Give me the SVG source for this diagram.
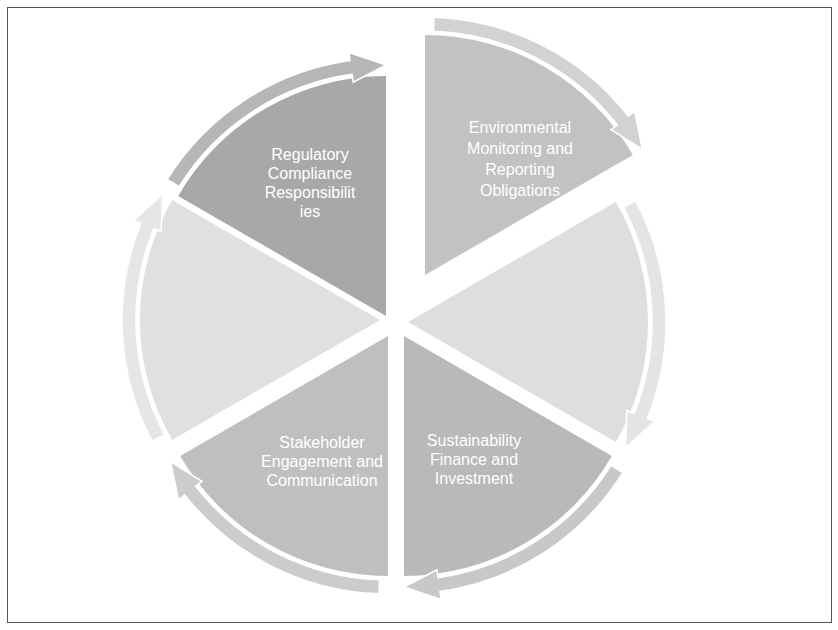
<svg xmlns="http://www.w3.org/2000/svg" width="838" height="630" viewBox="0 0 838 630">
<defs>
<style>
.w{stroke:none}
.b{stroke:#ffffff;stroke-width:1.5}
.t{font-family:"Liberation Sans",Arial,sans-serif;font-size:16px;fill:#ffffff;text-anchor:middle}
</style>
<path id="wedge" d="M0,0 L0,-240 A240,240 0 0 1 207.85,-120 Z"/>
<path id="band" d="M9.0,-257.84 A258,258 0 0 1 203.3,-158.85 L209.6,-163.8 L217.4,-125.5 L186.0,-145.3 L192.3,-150.2 A244,244 0 0 0 8.52,-243.85 Z"/>
</defs>
<rect x="7.5" y="7.5" width="824" height="615" fill="#ffffff" stroke="#555555" stroke-width="1"/>
<g id="seg-top-right" transform="translate(425,275)">
<use href="#wedge" class="w" fill="#c2c2c2"/>
<use href="#band" class="b" fill="#d2d2d2"/>
</g>
<g id="seg-right" transform="translate(408,322) rotate(60)">
<use href="#wedge" class="w" fill="#dedede"/>
<use href="#band" class="b" fill="#e4e4e4"/>
</g>
<g id="seg-bottom-right" transform="translate(404,336) rotate(120)">
<use href="#wedge" class="w" fill="#b9b9b9"/>
<use href="#band" class="b" fill="#c8c8c8"/>
</g>
<g id="seg-bottom-left" transform="translate(388,336) rotate(180)">
<use href="#wedge" class="w" fill="#bfbfbf"/>
<use href="#band" class="b" fill="#cccccc"/>
</g>
<g id="seg-left" transform="translate(380,320) rotate(240)">
<use href="#wedge" class="w" fill="#e0e0e0"/>
<use href="#band" class="b" fill="#e6e6e6"/>
</g>
<g id="seg-top-left" transform="translate(386,316) rotate(300)">
<use href="#wedge" class="w" fill="#a8a8a8"/>
<use href="#band" class="b" fill="#b6b6b6"/>
</g>
<g id="labels">
<text class="t" x="310" y="160">Regulatory</text>
<text class="t" x="310" y="179">Compliance</text>
<text class="t" x="310" y="198">Responsibilit</text>
<text class="t" x="310" y="217">ies</text>
<text class="t" x="520" y="133">Environmental</text>
<text class="t" x="520" y="154">Monitoring and</text>
<text class="t" x="520" y="175">Reporting</text>
<text class="t" x="520" y="196">Obligations</text>
<text class="t" x="474" y="446">Sustainability</text>
<text class="t" x="474" y="465">Finance and</text>
<text class="t" x="474" y="484">Investment</text>
<text class="t" x="322" y="448">Stakeholder</text>
<text class="t" x="322" y="467">Engagement and</text>
<text class="t" x="322" y="486">Communication</text>
</g>
</svg>
